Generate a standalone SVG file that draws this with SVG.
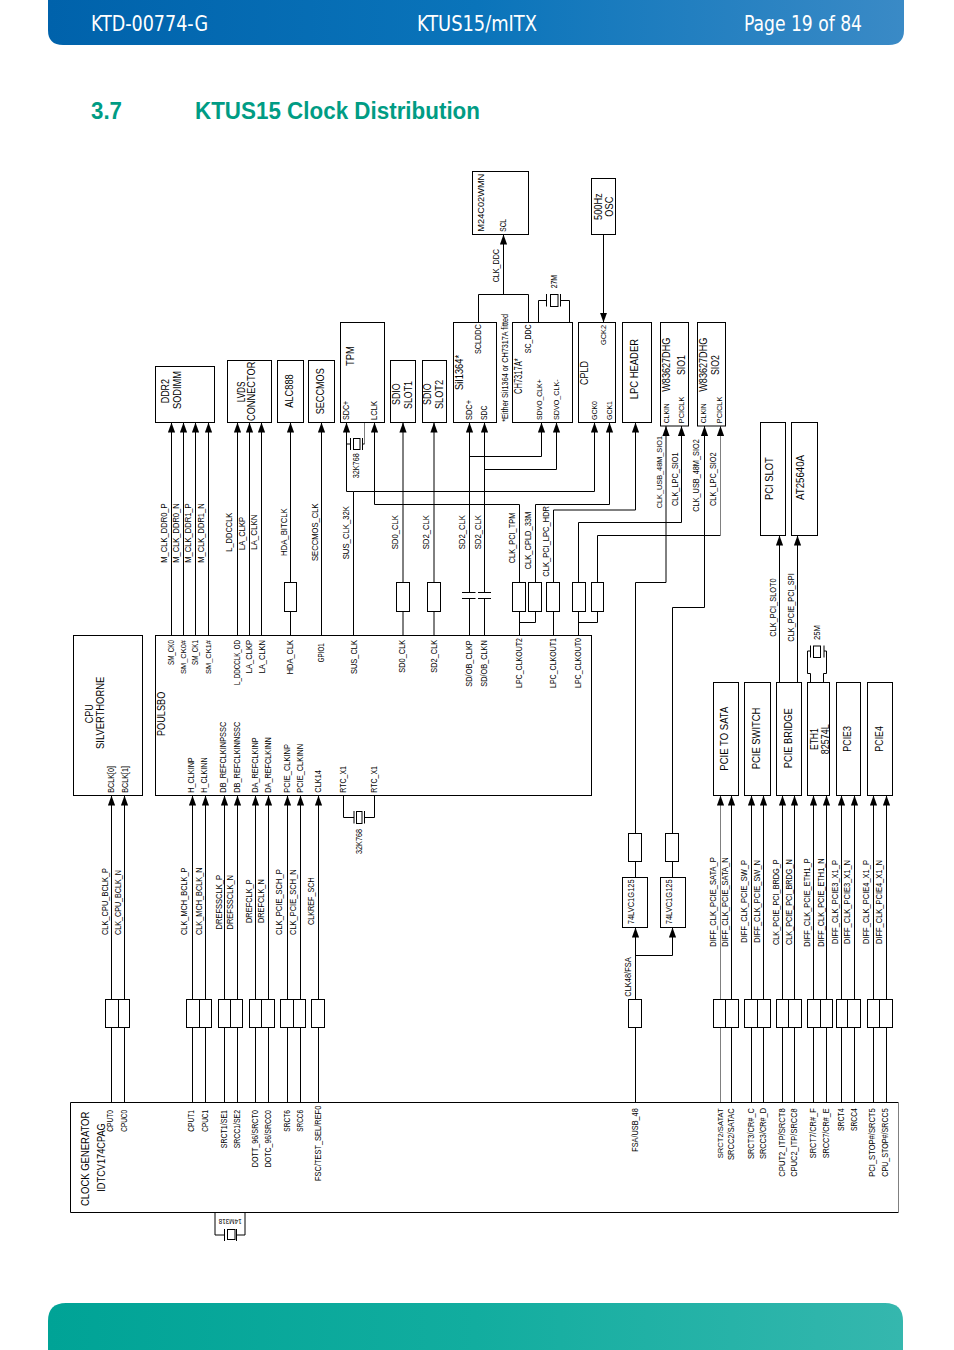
<svg xmlns="http://www.w3.org/2000/svg" width="954" height="1350" viewBox="0 0 954 1350">
<style>
text{font-family:"Liberation Sans",Arial,sans-serif;fill:#000}
.s{font-size:8.6px}
.t{font-size:7.6px}
.m{font-size:9.5px}
.b{font-size:10px}
.box{fill:#fff;stroke:#000;stroke-width:1}
.r{fill:#fff;stroke:#000;stroke-width:1}
.w{fill:none;stroke:#000;stroke-width:1}
.g{fill:none;stroke:#808080;stroke-width:1}
.x{fill:#fff;stroke:#000;stroke-width:1}
.hd{font-family:"DejaVu Sans Condensed","DejaVu Sans",sans-serif;font-stretch:condensed;font-size:22px;fill:#fff}
.h1{font-family:"Liberation Sans",Arial,sans-serif;font-weight:bold;font-size:23px;fill:#009c84}
</style>
<defs>
<linearGradient id="gh" x1="0" y1="0" x2="1" y2="0"><stop offset="0" stop-color="#0062ab"/><stop offset="0.5" stop-color="#0a74ba"/><stop offset="1" stop-color="#3a8ac6"/></linearGradient>
<linearGradient id="gf" x1="0" y1="0" x2="1" y2="0"><stop offset="0" stop-color="#00a396"/><stop offset="0.5" stop-color="#12ad9f"/><stop offset="1" stop-color="#35b7ae"/></linearGradient>
<marker id="a" markerUnits="userSpaceOnUse" markerWidth="10" markerHeight="8" refX="10" refY="4" orient="auto" viewBox="0 0 10 8"><path d="M0,0.4 L10,4 L0,7.6 Z" fill="#000"/></marker>
</defs>

<g id="page-header">
<path d="M48,0H904V30Q904,45 889,45H63Q48,45 48,30Z" fill="url(#gh)"/>
<text class="hd" x="91" y="31" textLength="117" lengthAdjust="spacingAndGlyphs">KTD-00774-G</text>
<text class="hd" x="417" y="31" textLength="120" lengthAdjust="spacingAndGlyphs">KTUS15/mITX</text>
<text class="hd" x="744" y="31" textLength="118" lengthAdjust="spacingAndGlyphs">Page 19 of 84</text>
</g>
<g id="page-title">
<text class="h1" x="91" y="119" textLength="31" lengthAdjust="spacingAndGlyphs">3.7</text>
<text class="h1" x="195" y="119" textLength="285" lengthAdjust="spacingAndGlyphs">KTUS15 Clock Distribution</text>
</g>
<path id="page-footer" d="M48,1350V1321Q48,1303 66,1303H885Q903,1303 903,1321V1350Z" fill="url(#gf)"/>

<g id="connectors">
<g class="w">
<path class="w" marker-end="url(#a)" d="M171.5,635V422.5"/>
<path class="w" marker-end="url(#a)" d="M183.5,635V422.5"/>
<path class="w" marker-end="url(#a)" d="M195.5,635V422.5"/>
<path class="w" marker-end="url(#a)" d="M208.5,635V422.5"/>
<path class="w" marker-end="url(#a)" d="M237.5,635V422.5"/>
<path class="w" marker-end="url(#a)" d="M249.5,635V422.5"/>
<path class="w" marker-end="url(#a)" d="M261.5,635V422.5"/>
<path class="w" marker-end="url(#a)" d="M290.5,635V422.5"/>
<path class="w" marker-end="url(#a)" d="M321.5,635V422.5"/>
<path class="w" marker-end="url(#a)" d="M403,635V422.5"/>
<path class="w" marker-end="url(#a)" d="M434,635V422.5"/>
<path class="w" marker-end="url(#a)" d="M353.5,635V491.5H594.5V422.5"/>
<path class="w" marker-end="url(#a)" d="M353.5,491.5H346.5V422.5"/>
<path class="g" d="M364.5,444V422.5"/>
<path class="w" marker-end="url(#a)" d="M469.5,592.5V422.5"/>
<path class="w" marker-end="url(#a)" d="M469.5,456.5H541.5V422.5"/>
<path class="w" marker-end="url(#a)" d="M484.5,592.5V422.5"/>
<path class="w" marker-end="url(#a)" d="M484.5,469.5H556.5V422.5"/>
<path class="w" d="M469.5,635V598.5M484.5,635V598.5"/>
<path class="w" marker-end="url(#a)" d="M519.5,582V504.5H374.5V422.5"/>
<path class="w" d="M519.5,635V611.5M519.5,622.5H535.5V611.5"/>
<path class="w" marker-end="url(#a)" d="M535.5,582V504.5H609.5V422.5"/>
<path class="w" marker-end="url(#a)" d="M553.5,635V510H635.5V422.5"/>
<path class="w" marker-end="url(#a)" d="M578.5,635V522.5H681.5V426"/>
<path class="w" d="M578.5,622.5H597.5V611.5"/>
<path class="w" d="M597.5,582V535.5H720.5"/>
<path class="g" marker-end="url(#a)" d="M720.5,535.5V426"/>
<path class="w" marker-end="url(#a)" d="M635.5,833V582.5H666V426"/>
<path class="w" marker-end="url(#a)" d="M672.5,833V607.5H704.5V426"/>
<path class="w" marker-end="url(#a)" d="M635.5,1102.5V927.5"/>
<path class="w" marker-end="url(#a)" d="M635.5,955.5H672.5V927.5"/>
<path class="w" d="M635.5,877.5V861M672.5,877.5V861"/>
<path class="w" d="M478.5,322.5V294.5H528.5V322.5"/>
<path class="w" marker-end="url(#a)" d="M503.5,294.5V234.5"/>
<path class="w" marker-end="url(#a)" d="M603.5,234V322.5"/>
<path class="w" marker-end="url(#a)" d="M779.5,682.5V535.5"/>
<path class="w" marker-end="url(#a)" d="M797.5,682.5V535.5"/>
<path class="w" marker-end="url(#a)" d="M111.5,1102.5V795.5"/>
<path class="w" marker-end="url(#a)" d="M124.5,1102.5V795.5"/>
<path class="w" marker-end="url(#a)" d="M192.5,1102.5V795.5"/>
<path class="w" marker-end="url(#a)" d="M205.5,1102.5V795.5"/>
<path class="w" marker-end="url(#a)" d="M224.5,1102.5V795.5"/>
<path class="w" marker-end="url(#a)" d="M237.5,1102.5V795.5"/>
<path class="w" marker-end="url(#a)" d="M255.5,1102.5V795.5"/>
<path class="w" marker-end="url(#a)" d="M268.5,1102.5V795.5"/>
<path class="w" marker-end="url(#a)" d="M287.5,1102.5V795.5"/>
<path class="w" marker-end="url(#a)" d="M300.5,1102.5V795.5"/>
<path class="w" marker-end="url(#a)" d="M318.5,1102.5V795.5"/>
<path class="g" marker-end="url(#a)" d="M720.5,1102.5V795.5"/>
<path class="w" marker-end="url(#a)" d="M731.5,1102.5V795.5"/>
<path class="w" marker-end="url(#a)" d="M751.5,1102.5V795.5"/>
<path class="w" marker-end="url(#a)" d="M763.5,1102.5V795.5"/>
<path class="w" marker-end="url(#a)" d="M782.5,1102.5V795.5"/>
<path class="w" marker-end="url(#a)" d="M794.5,1102.5V795.5"/>
<path class="w" marker-end="url(#a)" d="M813.5,1102.5V795.5"/>
<path class="w" marker-end="url(#a)" d="M826.5,1102.5V795.5"/>
<path class="w" marker-end="url(#a)" d="M841.5,1102.5V795.5"/>
<path class="w" marker-end="url(#a)" d="M854.5,1102.5V795.5"/>
<path class="w" marker-end="url(#a)" d="M873.5,1102.5V795.5"/>
<path class="w" marker-end="url(#a)" d="M886.5,1102.5V795.5"/>
</g>
<g id="net-labels">
<text class="s" transform="translate(166.7,562.7) rotate(-90)" textLength="59.3" lengthAdjust="spacingAndGlyphs">M_CLK_DDR0_P</text>
<text class="s" transform="translate(179.3,562.7) rotate(-90)" textLength="59.3" lengthAdjust="spacingAndGlyphs">M_CLK_DDR0_N</text>
<text class="s" transform="translate(191,562.7) rotate(-90)" textLength="59.3" lengthAdjust="spacingAndGlyphs">M_CLK_DDR1_P</text>
<text class="s" transform="translate(204,562.7) rotate(-90)" textLength="59.3" lengthAdjust="spacingAndGlyphs">M_CLK_DDR1_N</text>
<text class="s" transform="translate(231.7,551.7) rotate(-90)" textLength="39" lengthAdjust="spacingAndGlyphs">L_DDCCLK</text>
<text class="s" transform="translate(244.7,550) rotate(-90)" textLength="33" lengthAdjust="spacingAndGlyphs">LA_CLKP</text>
<text class="s" transform="translate(257.3,550) rotate(-90)" textLength="35.5" lengthAdjust="spacingAndGlyphs">LA_CLKN</text>
<text class="s" transform="translate(287,556) rotate(-90)" textLength="47.7" lengthAdjust="spacingAndGlyphs">HDA_BITCLK</text>
<text class="s" transform="translate(317.7,561) rotate(-90)" textLength="57.7" lengthAdjust="spacingAndGlyphs">SECCMOS_CLK</text>
<text class="s" transform="translate(349,559.3) rotate(-90)" textLength="53.3" lengthAdjust="spacingAndGlyphs">SUS_CLK_32K</text>
<text class="s" transform="translate(398.3,549.3) rotate(-90)" textLength="34.3" lengthAdjust="spacingAndGlyphs">SD0_CLK</text>
<text class="s" transform="translate(429.3,549.3) rotate(-90)" textLength="34.3" lengthAdjust="spacingAndGlyphs">SD2_CLK</text>
<text class="s" transform="translate(465,549.3) rotate(-90)" textLength="34.3" lengthAdjust="spacingAndGlyphs">SD2_CLK</text>
<text class="s" transform="translate(480.7,549.3) rotate(-90)" textLength="34.3" lengthAdjust="spacingAndGlyphs">SD2_CLK</text>
<text class="s" transform="translate(515,563.3) rotate(-90)" textLength="50.7" lengthAdjust="spacingAndGlyphs">CLK_PCI_TPM</text>
<text class="s" transform="translate(530.7,569.3) rotate(-90)" textLength="57.6" lengthAdjust="spacingAndGlyphs">CLK_CPLD_33M</text>
<text class="s" transform="translate(549,576.7) rotate(-90)" textLength="70.7" lengthAdjust="spacingAndGlyphs">CLK_PCI_LPC_HDR</text>
<text class="t" transform="translate(661.7,508.3) rotate(-90)" textLength="72.3" lengthAdjust="spacingAndGlyphs">CLK_USB_48M_SIO1</text>
<text class="s" transform="translate(678,506) rotate(-90)" textLength="53.7" lengthAdjust="spacingAndGlyphs">CLK_LPC_SIO1</text>
<text class="s" transform="translate(699.3,511.7) rotate(-90)" textLength="72.4" lengthAdjust="spacingAndGlyphs">CLK_USB_48M_SIO2</text>
<text class="s" transform="translate(716,506) rotate(-90)" textLength="53.7" lengthAdjust="spacingAndGlyphs">CLK_LPC_SIO2</text>
<text class="s" transform="translate(775.7,636.7) rotate(-90)" textLength="58.3" lengthAdjust="spacingAndGlyphs">CLK_PCI_SLOT0</text>
<text class="s" transform="translate(793.7,641.7) rotate(-90)" textLength="68.4" lengthAdjust="spacingAndGlyphs">CLK_PCIE_PCI_SPI</text>
<text class="s" transform="translate(499,282.3) rotate(-90)" textLength="33.3" lengthAdjust="spacingAndGlyphs">CLK_DDC</text>
<text class="s" transform="translate(107.7,935) rotate(-90)" textLength="67" lengthAdjust="spacingAndGlyphs">CLK_CPU_BCLK_P</text>
<text class="s" transform="translate(121,935) rotate(-90)" textLength="65" lengthAdjust="spacingAndGlyphs">CLK_CPU_BCLK_N</text>
<text class="s" transform="translate(187.3,935) rotate(-90)" textLength="67.5" lengthAdjust="spacingAndGlyphs">CLK_MCH_BCLK_P</text>
<text class="s" transform="translate(201.7,935) rotate(-90)" textLength="67.5" lengthAdjust="spacingAndGlyphs">CLK_MCH_BCLK_N</text>
<text class="s" transform="translate(221.7,929.5) rotate(-90)" textLength="54.5" lengthAdjust="spacingAndGlyphs">DREFSSCLK_P</text>
<text class="s" transform="translate(233.3,929.5) rotate(-90)" textLength="54.5" lengthAdjust="spacingAndGlyphs">DREFSSCLK_N</text>
<text class="s" transform="translate(252.3,923) rotate(-90)" textLength="43.7" lengthAdjust="spacingAndGlyphs">DREFCLK_P</text>
<text class="s" transform="translate(264,923) rotate(-90)" textLength="43.7" lengthAdjust="spacingAndGlyphs">DREFCLK_N</text>
<text class="s" transform="translate(282.3,935) rotate(-90)" textLength="65.7" lengthAdjust="spacingAndGlyphs">CLK_PCIE_SCH_P</text>
<text class="s" transform="translate(296,935) rotate(-90)" textLength="65.7" lengthAdjust="spacingAndGlyphs">CLK_PCIE_SCH_N</text>
<text class="s" transform="translate(314,925) rotate(-90)" textLength="47.7" lengthAdjust="spacingAndGlyphs">CLKREF_SCH</text>
<text class="s" transform="translate(631,996.7) rotate(-90)" textLength="39.4" lengthAdjust="spacingAndGlyphs">CLK48/FSA</text>
<text class="s" transform="translate(716,946.7) rotate(-90)" textLength="89.4" lengthAdjust="spacingAndGlyphs">DIFF_CLK_PCIE_SATA_P</text>
<text class="s" transform="translate(728.3,946.7) rotate(-90)" textLength="89.4" lengthAdjust="spacingAndGlyphs">DIFF_CLK_PCIE_SATA_N</text>
<text class="s" transform="translate(747,942.7) rotate(-90)" textLength="82.7" lengthAdjust="spacingAndGlyphs">DIFF_CLK_PCIE_SW_P</text>
<text class="s" transform="translate(760,942.7) rotate(-90)" textLength="82.7" lengthAdjust="spacingAndGlyphs">DIFF_CLK_PCIE_SW_N</text>
<text class="s" transform="translate(779,945) rotate(-90)" textLength="85.7" lengthAdjust="spacingAndGlyphs">CLK_PCIE_PCI_BRDG_P</text>
<text class="s" transform="translate(791.7,945) rotate(-90)" textLength="85.7" lengthAdjust="spacingAndGlyphs">CLK_PCIE_PCI_BRDG_N</text>
<text class="s" transform="translate(810,946.7) rotate(-90)" textLength="88.4" lengthAdjust="spacingAndGlyphs">DIFF_CLK_PCIE_ETH1_P</text>
<text class="s" transform="translate(823.7,946.7) rotate(-90)" textLength="88.4" lengthAdjust="spacingAndGlyphs">DIFF_CLK_PCIE_ETH1_N</text>
<text class="s" transform="translate(838.3,944) rotate(-90)" textLength="84" lengthAdjust="spacingAndGlyphs">DIFF_CLK_PCIE3_X1_P</text>
<text class="s" transform="translate(849.7,944) rotate(-90)" textLength="84" lengthAdjust="spacingAndGlyphs">DIFF_CLK_PCIE3_X1_N</text>
<text class="s" transform="translate(869.3,944) rotate(-90)" textLength="84" lengthAdjust="spacingAndGlyphs">DIFF_CLK_PCIE4_X1_P</text>
<text class="s" transform="translate(882.3,944) rotate(-90)" textLength="84" lengthAdjust="spacingAndGlyphs">DIFF_CLK_PCIE4_X1_N</text>
</g>
</g>

<g id="resistors">
<rect class="r" x="284.5" y="582.5" width="12" height="29"/>
<rect class="r" x="396.5" y="582.5" width="13" height="29"/>
<rect class="r" x="427.5" y="582.5" width="13" height="29"/>
<rect class="r" x="512.5" y="582.5" width="13" height="29"/>
<rect class="r" x="528.5" y="582.5" width="13" height="29"/>
<rect class="r" x="546.5" y="582.5" width="13" height="29"/>
<rect class="r" x="572.5" y="582.5" width="13" height="29"/>
<rect class="r" x="591.5" y="582.5" width="12" height="29"/>
<rect class="r" x="628.5" y="833.5" width="13" height="28"/>
<rect class="r" x="665.5" y="833.5" width="13" height="28"/>
<rect class="r" x="105.5" y="999.5" width="13" height="28"/><rect class="r" x="118.5" y="999.5" width="11" height="28"/>
<rect class="r" x="186.5" y="999.5" width="13" height="28"/><rect class="r" x="199.5" y="999.5" width="12" height="28"/>
<rect class="r" x="218.5" y="999.5" width="12" height="28"/><rect class="r" x="230.5" y="999.5" width="12" height="28"/>
<rect class="r" x="249.5" y="999.5" width="12" height="28"/><rect class="r" x="261.5" y="999.5" width="13" height="28"/>
<rect class="r" x="280.5" y="999.5" width="13" height="28"/><rect class="r" x="293.5" y="999.5" width="12" height="28"/>
<rect class="r" x="311.5" y="999.5" width="13" height="28"/>
<rect class="r" x="628.5" y="999.5" width="13" height="28"/>
<rect class="r" x="713.5" y="999.5" width="12" height="28"/><rect class="r" x="725.5" y="999.5" width="13" height="28"/>
<rect class="r" x="744.5" y="999.5" width="13" height="28"/><rect class="r" x="757.5" y="999.5" width="13" height="28"/>
<rect class="r" x="776.5" y="999.5" width="12" height="28"/><rect class="r" x="788.5" y="999.5" width="13" height="28"/>
<rect class="r" x="807.5" y="999.5" width="13" height="28"/><rect class="r" x="820.5" y="999.5" width="12" height="28"/>
<rect class="r" x="836.5" y="999.5" width="11" height="28"/><rect class="r" x="847.5" y="999.5" width="13" height="28"/>
<rect class="r" x="867.5" y="999.5" width="12" height="28"/><rect class="r" x="879.5" y="999.5" width="13" height="28"/>
</g>

<g id="capacitors">
<path class="w" d="M462,592.5H475.5M462,598.5H475.5M478,592.5H491M478,598.5H491"/>
</g>

<g id="xtal-32k-tpm">
<path class="w" d="M346.5,444H350.5M350.5,438V450M362.5,438V450M362.5,444H364.5"/>
<rect class="x" x="353.5" y="438.5" width="6.5" height="11"/>
<text class="s" transform="translate(358.7,478.3) rotate(-90)" textLength="25" lengthAdjust="spacingAndGlyphs">32K768</text>
</g>
<g id="xtal-27m">
<path class="w" d="M538.5,322.5V300.5H546.5M546.5,294V306.5M560.5,294V306.5M560.5,300.5H569.5V322.5"/>
<rect class="x" x="550.5" y="294.5" width="7.5" height="12"/>
<text class="s" transform="translate(556.7,288.3) rotate(-90)" textLength="13.3" lengthAdjust="spacingAndGlyphs">27M</text>
</g>
<g id="xtal-25m">
<path class="w" d="M810.5,682.5V673.5H807.5V651H810.5M810.5,645.5V657.5M824,645.5V657.5M824,651H826.5V673.5H823.5V682.5"/>
<rect class="x" x="813.5" y="646" width="7" height="11.5"/>
<text class="s" transform="translate(820.3,640) rotate(-90)" textLength="15" lengthAdjust="spacingAndGlyphs">25M</text>
</g>
<g id="xtal-32k-rtc">
<path class="w" d="M343.5,795.5V817.5H354M354,811V823.5M364.5,811V823.5M364.5,817.5H374.5V795.5"/>
<rect class="x" x="356.5" y="811.5" width="5.5" height="12"/>
<text class="s" transform="translate(361.7,854) rotate(-90)" textLength="25" lengthAdjust="spacingAndGlyphs">32K768</text>
</g>
<g id="xtal-14m">
<path class="w" d="M215,1212.5V1235H224.5M224.5,1229V1241M236.5,1229V1241M236.5,1235H245V1212.5"/>
<rect class="x" x="227.5" y="1229.5" width="7.5" height="10"/>
<text class="t" transform="translate(241.7,1218.5) rotate(180)" textLength="23" lengthAdjust="spacingAndGlyphs">14M318</text>
</g>

<g id="ddr2-sodimm">
<rect class="box" x="155.5" y="366.5" width="59" height="56"/>
<text class="b" transform="translate(169.3,403.3) rotate(-90)" textLength="24.3" lengthAdjust="spacingAndGlyphs">DDR2</text>
<text class="b" transform="translate(180.7,409) rotate(-90)" textLength="38" lengthAdjust="spacingAndGlyphs">SODIMM</text>
</g>
<g id="lvds-connector">
<rect class="box" x="227.5" y="360.5" width="44" height="62"/>
<text class="b" transform="translate(244.7,402.3) rotate(-90)" textLength="20.7" lengthAdjust="spacingAndGlyphs">LVDS</text>
<text class="b" transform="translate(254.7,421) rotate(-90)" textLength="59.3" lengthAdjust="spacingAndGlyphs">CONNECTOR</text>
</g>
<g id="alc888">
<rect class="box" x="277.5" y="360.5" width="26" height="62"/>
<text class="b" transform="translate(293.3,407.7) rotate(-90)" textLength="33.4" lengthAdjust="spacingAndGlyphs">ALC888</text>
</g>
<g id="seccmos">
<rect class="box" x="308.5" y="360.5" width="26" height="62"/>
<text class="b" transform="translate(324.3,414.3) rotate(-90)" textLength="46" lengthAdjust="spacingAndGlyphs">SECCMOS</text>
</g>
<g id="tpm">
<rect class="box" x="340.5" y="322.5" width="44" height="100"/>
<text class="b" transform="translate(353.7,366) rotate(-90)" textLength="20" lengthAdjust="spacingAndGlyphs">TPM</text>
<text class="s" transform="translate(349,420) rotate(-90)" textLength="19.3" lengthAdjust="spacingAndGlyphs">SDC+</text>
<text class="s" transform="translate(376.7,420) rotate(-90)" textLength="19" lengthAdjust="spacingAndGlyphs">LCLK</text>
</g>
<g id="sdio-slot1">
<rect class="box" x="390.5" y="360.5" width="25" height="62"/>
<text class="b" transform="translate(400,405) rotate(-90)" textLength="21.7" lengthAdjust="spacingAndGlyphs">SDIO</text>
<text class="b" transform="translate(412.3,409) rotate(-90)" textLength="28" lengthAdjust="spacingAndGlyphs">SLOT1</text>
</g>
<g id="sdio-slot2">
<rect class="box" x="422.5" y="360.5" width="24" height="62"/>
<text class="b" transform="translate(431,405) rotate(-90)" textLength="21.7" lengthAdjust="spacingAndGlyphs">SDIO</text>
<text class="b" transform="translate(443.3,409) rotate(-90)" textLength="29" lengthAdjust="spacingAndGlyphs">SLOT2</text>
</g>
<g id="m24c02">
<rect class="box" x="472.5" y="171.5" width="56" height="63"/>
<text class="m" transform="translate(484.3,231.7) rotate(-90)" textLength="58" lengthAdjust="spacingAndGlyphs">M24C02WMN</text>
<text class="s" transform="translate(506,231.7) rotate(-90)" textLength="12.7" lengthAdjust="spacingAndGlyphs">SCL</text>
</g>
<g id="osc-500hz">
<rect class="box" x="591.5" y="178.5" width="24" height="56"/>
<text class="b" transform="translate(602.3,220) rotate(-90)" textLength="26.7" lengthAdjust="spacingAndGlyphs">500Hz</text>
<text class="b" transform="translate(612.7,216.7) rotate(-90)" textLength="20" lengthAdjust="spacingAndGlyphs">OSC</text>
</g>
<g id="sil1364">
<rect class="box" x="453.5" y="322.5" width="43" height="100"/>
<text class="b" transform="translate(462.7,390) rotate(-90)" textLength="35" lengthAdjust="spacingAndGlyphs">SiI1364*</text>
<text class="s" transform="translate(481,354) rotate(-90)" textLength="29.7" lengthAdjust="spacingAndGlyphs">SCLDDC</text>
<text class="s" transform="translate(471.7,420) rotate(-90)" textLength="20" lengthAdjust="spacingAndGlyphs">SDC+</text>
<text class="s" transform="translate(486.7,420) rotate(-90)" textLength="14.3" lengthAdjust="spacingAndGlyphs">SDC</text>
</g>
<text id="fit-note" class="s" transform="translate(508,421.7) rotate(-90)" textLength="107.7" lengthAdjust="spacingAndGlyphs">*Either SiI1364 or CH7317A fitted</text>
<g id="ch7317a">
<rect class="box" x="512.5" y="322.5" width="60" height="100"/>
<text class="b" transform="translate(521.7,394) rotate(-90)" textLength="35.7" lengthAdjust="spacingAndGlyphs">CH7317A*</text>
<text class="s" transform="translate(530.7,353.3) rotate(-90)" textLength="29" lengthAdjust="spacingAndGlyphs">SC_DDC</text>
<text class="t" transform="translate(542.3,420) rotate(-90)" textLength="40.7" lengthAdjust="spacingAndGlyphs">SDVO_CLK+</text>
<text class="t" transform="translate(559,420) rotate(-90)" textLength="40.7" lengthAdjust="spacingAndGlyphs">SDVO_CLK-</text>
</g>
<g id="cpld">
<rect class="box" x="578.5" y="322.5" width="37" height="100"/>
<text class="b" transform="translate(587.7,385) rotate(-90)" textLength="24" lengthAdjust="spacingAndGlyphs">CPLD</text>
<text class="t" transform="translate(605.7,345) rotate(-90)" textLength="20" lengthAdjust="spacingAndGlyphs">GCK2</text>
<text class="t" transform="translate(596.7,420) rotate(-90)" textLength="19" lengthAdjust="spacingAndGlyphs">GCK0</text>
<text class="t" transform="translate(612,420) rotate(-90)" textLength="19" lengthAdjust="spacingAndGlyphs">GCK1</text>
</g>
<g id="lpc-header">
<rect class="box" x="622.5" y="322.5" width="29" height="100"/>
<text class="b" transform="translate(638.3,399.3) rotate(-90)" textLength="60.3" lengthAdjust="spacingAndGlyphs">LPC HEADER</text>
</g>
<g id="sio1">
<rect class="box" x="660.5" y="322.5" width="28" height="103.5"/>
<text class="b" transform="translate(670.3,391.7) rotate(-90)" textLength="54" lengthAdjust="spacingAndGlyphs">W83627DHG</text>
<text class="b" transform="translate(685,375) rotate(-90)" textLength="20" lengthAdjust="spacingAndGlyphs">SIO1</text>
<text class="t" transform="translate(668.7,423.3) rotate(-90)" textLength="20" lengthAdjust="spacingAndGlyphs">CLKIN</text>
<text class="t" transform="translate(684.3,423.3) rotate(-90)" textLength="26.7" lengthAdjust="spacingAndGlyphs">PCICLK</text>
</g>
<g id="sio2">
<rect class="box" x="697.5" y="322.5" width="28" height="103.5"/>
<text class="b" transform="translate(707.3,391.7) rotate(-90)" textLength="54" lengthAdjust="spacingAndGlyphs">W83627DHG</text>
<text class="b" transform="translate(719.3,375) rotate(-90)" textLength="20" lengthAdjust="spacingAndGlyphs">SIO2</text>
<text class="t" transform="translate(706,423.3) rotate(-90)" textLength="20" lengthAdjust="spacingAndGlyphs">CLKIN</text>
<text class="t" transform="translate(722,423.3) rotate(-90)" textLength="26.7" lengthAdjust="spacingAndGlyphs">PCICLK</text>
</g>
<g id="pci-slot">
<rect class="box" x="760.5" y="422.5" width="25" height="113"/>
<text class="b" transform="translate(773.3,500) rotate(-90)" textLength="42.7" lengthAdjust="spacingAndGlyphs">PCI SLOT</text>
</g>
<g id="at25640a">
<rect class="box" x="791.5" y="422.5" width="26" height="113"/>
<text class="b" transform="translate(803.7,500) rotate(-90)" textLength="45" lengthAdjust="spacingAndGlyphs">AT25640A</text>
</g>

<g id="cpu">
<rect class="box" x="73.5" y="635.5" width="69" height="160"/>
<text class="b" transform="translate(93.3,723.3) rotate(-90)" textLength="19" lengthAdjust="spacingAndGlyphs">CPU</text>
<text class="b" transform="translate(104,749) rotate(-90)" textLength="72.3" lengthAdjust="spacingAndGlyphs">SILVERTHORNE</text>
<text class="s" transform="translate(114.3,792.7) rotate(-90)" textLength="26.7" lengthAdjust="spacingAndGlyphs">BCLK[0]</text>
<text class="s" transform="translate(127.7,792.7) rotate(-90)" textLength="26.7" lengthAdjust="spacingAndGlyphs">BCLK[1]</text>
</g>
<g id="poulsbo">
<rect class="box" x="155.5" y="635.5" width="436" height="160"/>
<text class="b" transform="translate(165,736) rotate(-90)" textLength="44.3" lengthAdjust="spacingAndGlyphs">POULSBO</text>
<text class="s" transform="translate(174,665) rotate(-90)" textLength="25" lengthAdjust="spacingAndGlyphs">SM_CK0</text>
<text class="t" transform="translate(185.7,674) rotate(-90)" textLength="34" lengthAdjust="spacingAndGlyphs">SM_CK0#</text>
<text class="s" transform="translate(198.3,665) rotate(-90)" textLength="25" lengthAdjust="spacingAndGlyphs">SM_CK1</text>
<text class="t" transform="translate(211,674) rotate(-90)" textLength="34" lengthAdjust="spacingAndGlyphs">SM_CK1#</text>
<text class="s" transform="translate(240,685) rotate(-90)" textLength="45" lengthAdjust="spacingAndGlyphs">L_DDCCLK_OD</text>
<text class="s" transform="translate(251.7,673.3) rotate(-90)" textLength="33.3" lengthAdjust="spacingAndGlyphs">LA_CLKP</text>
<text class="s" transform="translate(265,673.3) rotate(-90)" textLength="33.3" lengthAdjust="spacingAndGlyphs">LA_CLKN</text>
<text class="s" transform="translate(293.3,674.3) rotate(-90)" textLength="34.3" lengthAdjust="spacingAndGlyphs">HDA_CLK</text>
<text class="s" transform="translate(324.3,662.3) rotate(-90)" textLength="19" lengthAdjust="spacingAndGlyphs">GPIO1</text>
<text class="s" transform="translate(356.7,674) rotate(-90)" textLength="34" lengthAdjust="spacingAndGlyphs">SUS_CLK</text>
<text class="s" transform="translate(405,672.7) rotate(-90)" textLength="33" lengthAdjust="spacingAndGlyphs">SD0_CLK</text>
<text class="s" transform="translate(436.7,672.7) rotate(-90)" textLength="33" lengthAdjust="spacingAndGlyphs">SD2_CLK</text>
<text class="s" transform="translate(471.7,686.7) rotate(-90)" textLength="46.5" lengthAdjust="spacingAndGlyphs">SD/OB_CLKP</text>
<text class="s" transform="translate(486.7,686.7) rotate(-90)" textLength="46.5" lengthAdjust="spacingAndGlyphs">SD/OB_CLKN</text>
<text class="s" transform="translate(521.7,688) rotate(-90)" textLength="50" lengthAdjust="spacingAndGlyphs">LPC_CLKOUT2</text>
<text class="s" transform="translate(555.7,688) rotate(-90)" textLength="50" lengthAdjust="spacingAndGlyphs">LPC_CLKOUT1</text>
<text class="s" transform="translate(581.3,688) rotate(-90)" textLength="50" lengthAdjust="spacingAndGlyphs">LPC_CLKOUT0</text>
<text class="s" transform="translate(194.3,792.7) rotate(-90)" textLength="35.4" lengthAdjust="spacingAndGlyphs">H_CLKINP</text>
<text class="s" transform="translate(207.3,792.7) rotate(-90)" textLength="35.4" lengthAdjust="spacingAndGlyphs">H_CLKINN</text>
<text class="s" transform="translate(226,792.7) rotate(-90)" textLength="71" lengthAdjust="spacingAndGlyphs">DB_REFCLKINPSSC</text>
<text class="s" transform="translate(240,792.7) rotate(-90)" textLength="71" lengthAdjust="spacingAndGlyphs">DB_REFCLKINNSSC</text>
<text class="s" transform="translate(257.7,792.7) rotate(-90)" textLength="55.4" lengthAdjust="spacingAndGlyphs">DA_REFCLKINP</text>
<text class="s" transform="translate(270.7,792.7) rotate(-90)" textLength="55.4" lengthAdjust="spacingAndGlyphs">DA_REFCLKINN</text>
<text class="s" transform="translate(290,792.7) rotate(-90)" textLength="48.7" lengthAdjust="spacingAndGlyphs">PCIE_CLKINP</text>
<text class="s" transform="translate(303.3,792.7) rotate(-90)" textLength="48.7" lengthAdjust="spacingAndGlyphs">PCIE_CLKINN</text>
<text class="s" transform="translate(320.7,792.7) rotate(-90)" textLength="22.7" lengthAdjust="spacingAndGlyphs">CLK14</text>
<text class="s" transform="translate(346,792.7) rotate(-90)" textLength="26.7" lengthAdjust="spacingAndGlyphs">RTC_X1</text>
<text class="s" transform="translate(376.7,792.7) rotate(-90)" textLength="26.7" lengthAdjust="spacingAndGlyphs">RTC_X1</text>
</g>
<g id="pcie-to-sata">
<rect class="box" x="713.5" y="682.5" width="25" height="113"/>
<text class="b" transform="translate(728.3,770.7) rotate(-90)" textLength="64" lengthAdjust="spacingAndGlyphs">PCIE TO SATA</text>
</g>
<g id="pcie-switch">
<rect class="box" x="744.5" y="682.5" width="26" height="113"/>
<text class="b" transform="translate(760.3,769.3) rotate(-90)" textLength="61.7" lengthAdjust="spacingAndGlyphs">PCIE SWITCH</text>
</g>
<g id="pcie-bridge">
<rect class="box" x="776.5" y="682.5" width="25" height="113"/>
<text class="b" transform="translate(791.7,768.3) rotate(-90)" textLength="60" lengthAdjust="spacingAndGlyphs">PCIE BRIDGE</text>
</g>
<g id="eth1">
<rect class="box" x="807.5" y="682.5" width="22" height="113"/>
<text class="b" transform="translate(818.3,750) rotate(-90)" textLength="21.7" lengthAdjust="spacingAndGlyphs">ETH1</text>
<text class="b" transform="translate(829.3,754.3) rotate(-90)" textLength="30" lengthAdjust="spacingAndGlyphs">82574L</text>
</g>
<g id="pcie3">
<rect class="box" x="836.5" y="682.5" width="24" height="113"/>
<text class="b" transform="translate(850.7,751.7) rotate(-90)" textLength="25.7" lengthAdjust="spacingAndGlyphs">PCIE3</text>
</g>
<g id="pcie4">
<rect class="box" x="867.5" y="682.5" width="25" height="113"/>
<text class="b" transform="translate(883,751.7) rotate(-90)" textLength="25.7" lengthAdjust="spacingAndGlyphs">PCIE4</text>
</g>
<g id="buf-74lvc-a">
<rect class="box" x="622.5" y="877.5" width="25" height="50"/>
<text class="s" transform="translate(634,924.3) rotate(-90)" textLength="45" lengthAdjust="spacingAndGlyphs">74LVC1G125</text>
</g>
<g id="buf-74lvc-b">
<rect class="box" x="660.5" y="877.5" width="25" height="50"/>
<text class="s" transform="translate(671.7,924.3) rotate(-90)" textLength="45" lengthAdjust="spacingAndGlyphs">74LVC1G125</text>
</g>
<g id="clock-generator">
<path class="box" style="stroke:none" d="M70.5,1102.5H898.5V1212.5H70.5Z"/>
<path class="w" d="M898.5,1102.5H70.5V1212.5H898.5"/>
<path class="g" d="M898.5,1102.5V1212.5"/>
<text class="b" transform="translate(89,1206) rotate(-90)" textLength="94.3" lengthAdjust="spacingAndGlyphs">CLOCK GENERATOR</text>
<text class="b" transform="translate(105,1191.7) rotate(-90)" textLength="68.4" lengthAdjust="spacingAndGlyphs">IDTCV174CPAG</text>
<text class="s" transform="translate(113.3,1131.7) rotate(-90)" textLength="21.7" lengthAdjust="spacingAndGlyphs">CPUT0</text>
<text class="s" transform="translate(126.7,1131.7) rotate(-90)" textLength="21.7" lengthAdjust="spacingAndGlyphs">CPUC0</text>
<text class="s" transform="translate(194.3,1131.7) rotate(-90)" textLength="21.7" lengthAdjust="spacingAndGlyphs">CPUT1</text>
<text class="s" transform="translate(207.7,1131.7) rotate(-90)" textLength="21.7" lengthAdjust="spacingAndGlyphs">CPUC1</text>
<text class="s" transform="translate(226.7,1148.3) rotate(-90)" textLength="38.3" lengthAdjust="spacingAndGlyphs">SRCT1/SE1</text>
<text class="s" transform="translate(240,1148.3) rotate(-90)" textLength="38.3" lengthAdjust="spacingAndGlyphs">SRCC1/SE2</text>
<text class="s" transform="translate(258.3,1167.3) rotate(-90)" textLength="57.3" lengthAdjust="spacingAndGlyphs">DOTT_96/SRCT0</text>
<text class="s" transform="translate(271,1167.3) rotate(-90)" textLength="57.3" lengthAdjust="spacingAndGlyphs">DOTC_96/SRCC0</text>
<text class="s" transform="translate(290,1131.7) rotate(-90)" textLength="21.7" lengthAdjust="spacingAndGlyphs">SRCT6</text>
<text class="s" transform="translate(303.3,1131.7) rotate(-90)" textLength="21.7" lengthAdjust="spacingAndGlyphs">SRCC6</text>
<text class="s" transform="translate(321,1181) rotate(-90)" textLength="75.3" lengthAdjust="spacingAndGlyphs">FSC/TEST_SEL/REF0</text>
<text class="s" transform="translate(637.7,1151.7) rotate(-90)" textLength="43.4" lengthAdjust="spacingAndGlyphs">FSA/USB_48</text>
<text class="t" transform="translate(722.7,1158.3) rotate(-90)" textLength="50" lengthAdjust="spacingAndGlyphs">SRCT2/SATAT</text>
<text class="s" transform="translate(734.3,1160) rotate(-90)" textLength="51.7" lengthAdjust="spacingAndGlyphs">SRCC2/SATAC</text>
<text class="s" transform="translate(753.7,1159) rotate(-90)" textLength="51" lengthAdjust="spacingAndGlyphs">SRCT3/CR#_C</text>
<text class="s" transform="translate(766,1159) rotate(-90)" textLength="51" lengthAdjust="spacingAndGlyphs">SRCC3/CR#_D</text>
<text class="s" transform="translate(785,1176.7) rotate(-90)" textLength="68.4" lengthAdjust="spacingAndGlyphs">CPUT2_ITP/SRCT8</text>
<text class="s" transform="translate(796.7,1176.7) rotate(-90)" textLength="68.4" lengthAdjust="spacingAndGlyphs">CPUC2_ITP/SRCC8</text>
<text class="s" transform="translate(816,1158.3) rotate(-90)" textLength="50" lengthAdjust="spacingAndGlyphs">SRCT7/CR#_F</text>
<text class="s" transform="translate(829,1158.3) rotate(-90)" textLength="50" lengthAdjust="spacingAndGlyphs">SRCC7/CR#_E</text>
<text class="s" transform="translate(844.3,1131) rotate(-90)" textLength="22.7" lengthAdjust="spacingAndGlyphs">SRCT4</text>
<text class="s" transform="translate(857.3,1131) rotate(-90)" textLength="22.7" lengthAdjust="spacingAndGlyphs">SRCC4</text>
<text class="s" transform="translate(875,1176.7) rotate(-90)" textLength="68.4" lengthAdjust="spacingAndGlyphs">PCI_STOP#/SRCT5</text>
<text class="s" transform="translate(888,1176.7) rotate(-90)" textLength="68.4" lengthAdjust="spacingAndGlyphs">CPU_STOP#/SRCC5</text>
</g>
</svg>
